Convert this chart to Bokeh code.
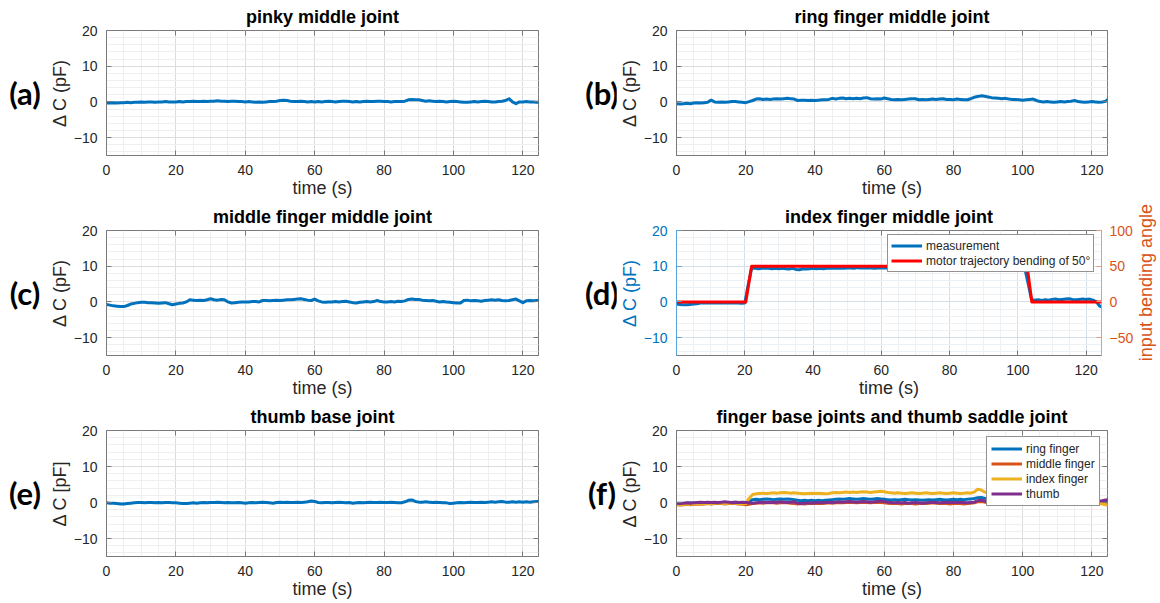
from bokeh.plotting import figure
from bokeh.layouts import column, row
from bokeh.models import Range1d, LinearAxis, SingleIntervalTicker, Div
from bokeh.embed import file_html
from bokeh.resources import INLINE

# ---------------- data ----------------
time_s = list(range(126))

pinky_mid = [-0.3,-0.3,-0.2,-0.3,-0.2,-0.2,-0.1,-0.2,-0.1,-0.1,0.0,
             -0.1,0.0,0.0,-0.1,0.0,0.0,0.1,0.0,0.0,0.0,
             0.1,0.0,0.1,0.1,0.2,0.1,0.1,0.2,0.1,0.2,
             0.2,0.3,0.2,0.2,0.1,0.2,0.2,0.1,0.1,0.0,
             0.1,0.0,-0.1,0.0,-0.1,0.0,0.1,0.1,0.2,0.4,
             0.5,0.4,0.2,0.1,0.1,0.2,0.1,0.0,0.1,0.0,
             0.1,0.0,0.1,0.2,0.1,0.0,0.1,0.2,0.2,0.1,
             0.0,0.1,0.0,0.1,0.2,0.1,0.1,0.2,0.2,0.1,
             0.1,0.0,0.1,0.1,0.1,0.2,0.6,0.7,0.6,0.6,
             0.4,0.2,0.3,0.2,0.1,0.2,0.1,0.0,0.1,0.2,
             0.1,0.0,-0.1,-0.1,0.0,0.1,0.0,0.1,0.2,0.1,
             0.0,0.0,0.1,0.2,0.4,0.9,0.0,-0.5,0.0,0.0,
             0.1,0.0,0.0,-0.1,-0.1]

ring_mid = [-0.5,-0.6,-0.5,-0.4,-0.5,-0.3,-0.2,-0.3,-0.2,-0.1,0.5,
            0.0,-0.1,0.0,-0.1,0.0,0.1,0.1,0.0,-0.1,-0.2,
            0.1,0.4,0.8,0.9,0.7,0.8,0.7,0.8,0.9,0.8,
            0.9,1.0,0.9,0.8,0.4,0.5,0.5,0.4,0.5,0.4,
            0.5,0.6,0.6,0.7,1.0,0.8,1.0,1.1,0.9,1.0,
            0.9,1.0,0.9,1.1,1.2,0.9,0.8,0.9,0.8,1.1,
            0.9,0.7,0.6,0.7,0.6,0.7,0.8,0.9,0.9,0.6,
            0.7,0.6,0.7,0.8,0.7,0.8,0.9,0.7,0.7,0.6,
            0.8,0.7,0.6,0.6,0.9,1.3,1.5,1.7,1.6,1.4,
            1.2,1.1,1.0,0.9,1.0,0.8,0.7,0.7,0.6,0.5,
            0.6,0.7,0.8,0.4,0.1,0.0,0.1,0.0,-0.1,0.0,
            0.1,0.0,0.1,0.2,0.4,0.1,0.0,-0.1,0.0,0.1,
            0.0,-0.1,0.0,0.2,1.0]

middle_mid = [-0.7,-0.9,-1.1,-1.2,-1.3,-1.3,-1.0,-0.6,-0.4,-0.2,-0.1,
              -0.1,-0.2,-0.2,-0.3,-0.4,-0.3,-0.2,-0.5,-0.8,-0.6,
              -0.4,-0.3,0.0,0.6,0.5,0.4,0.5,0.4,0.6,0.9,
              0.6,0.5,0.7,0.6,0.0,-0.3,-0.2,-0.1,0.0,0.0,
              0.0,0.1,0.1,0.0,0.4,0.4,0.3,0.4,0.5,0.4,
              0.5,0.6,0.6,0.7,0.8,0.9,0.7,0.5,0.4,0.8,
              0.3,0.0,-0.1,0.0,0.0,0.1,0.0,0.1,0.2,0.0,
              -0.2,-0.3,-0.1,0.0,0.1,0.0,0.1,0.4,0.1,0.0,
              0.0,0.1,0.0,0.2,0.1,0.3,0.7,0.8,0.7,0.7,
              0.5,0.4,0.3,0.4,0.2,0.0,0.1,0.0,-0.1,-0.2,
              -0.3,-0.3,0.4,0.5,0.3,0.4,0.3,0.2,0.4,0.5,
              0.6,0.5,0.6,0.4,0.3,0.4,0.6,0.8,0.3,-0.2,
              0.3,0.4,0.3,0.4,0.5]

index_meas = [-0.6,-0.7,-0.8,-0.8,-0.7,-0.6,-0.5,-0.3,-0.2,-0.3,-0.2,
              -0.3,-0.2,-0.3,-0.3,-0.2,-0.3,-0.2,-0.3,-0.4,-0.3,
              4.8,9.4,9.5,9.3,9.4,9.5,9.4,9.3,9.4,9.3,
              9.4,9.3,9.2,9.4,9.1,9.0,9.3,9.2,9.3,9.4,
              9.3,9.4,9.3,9.4,9.5,9.4,9.4,9.5,9.4,9.5,
              9.5,9.4,9.6,9.5,9.5,9.6,9.5,9.4,9.5,9.6,
              9.5,9.6,9.5,9.5,9.6,9.5,9.6,9.5,9.5,9.6,
              9.6,9.5,9.6,9.7,9.6,9.5,9.6,9.7,9.6,9.7,
              9.6,9.7,9.6,9.7,9.8,9.9,10.2,10.1,9.9,9.8,
              9.7,9.8,9.7,9.6,9.7,9.8,9.7,9.6,9.7,9.6,
              9.6,9.5,5.2,0.6,0.5,0.6,0.4,0.6,0.5,0.7,
              0.8,0.6,0.7,0.8,0.9,0.7,0.6,0.7,0.8,0.7,
              0.8,0.5,0.0,-1.2,-1.6]

motor_time = [0.0, 20.3, 22.0, 102.7, 104.1, 125.0]
motor_angle = [0, 0, 50, 50, 0, 0]

thumb_base = [-0.1,-0.2,-0.2,-0.3,-0.4,-0.4,-0.3,-0.2,-0.1,0.0,0.0,
              -0.1,0.0,0.0,-0.1,0.0,-0.1,0.0,0.0,-0.1,-0.1,
              -0.2,-0.3,-0.3,-0.2,-0.1,-0.2,-0.1,0.0,-0.1,0.0,
              0.0,0.1,0.0,-0.1,0.0,-0.1,-0.1,0.0,-0.1,-0.2,
              -0.1,0.0,-0.1,0.0,0.1,0.0,-0.1,-0.2,0.0,0.1,
              0.0,0.1,0.0,0.0,0.1,0.0,0.1,0.2,0.4,0.3,
              0.0,-0.1,0.0,0.0,-0.1,0.0,0.1,0.0,-0.1,0.0,
              -0.2,-0.1,0.0,-0.1,0.0,0.1,0.0,0.0,0.1,0.0,
              0.0,0.1,0.0,-0.1,-0.1,0.2,0.6,0.7,0.3,0.1,
              0.1,0.2,0.1,0.0,0.1,0.0,-0.1,-0.1,-0.3,-0.2,
              -0.1,0.0,-0.1,0.0,0.1,0.0,0.0,0.1,0.0,0.1,
              0.2,0.1,0.2,0.3,0.1,0.1,0.2,0.1,0.2,0.1,
              0.2,0.1,0.2,0.3,0.4]

base_ring = [-0.3,-0.2,-0.3,-0.2,-0.1,-0.2,-0.1,0.0,-0.1,0.0,0.0,
             0.0,-0.1,0.0,0.0,-0.1,0.0,0.1,0.0,-0.1,-0.2,
             0.2,0.8,0.9,0.8,0.9,1.0,0.9,0.8,0.9,1.0,
             0.9,1.0,0.9,0.8,0.6,0.5,0.6,0.5,0.6,0.5,
             0.6,0.5,0.6,0.7,0.8,0.9,1.0,0.9,1.0,1.1,
             1.0,0.9,1.0,1.1,1.0,0.9,1.0,1.1,1.0,0.9,
             0.8,0.7,0.8,0.7,0.8,0.9,0.8,0.7,0.8,0.7,
             0.6,0.7,0.8,0.7,0.8,0.9,0.8,0.7,0.8,0.9,
             0.8,0.9,0.8,0.9,1.0,1.1,1.3,1.4,1.2,1.1,
             1.0,0.9,1.0,0.9,0.8,0.9,0.8,0.7,0.8,0.7,
             0.6,0.5,0.4,0.3,0.2,0.3,0.2,0.1,0.2,0.1,
             0.2,0.1,0.2,0.1,0.2,0.3,0.2,0.1,0.2,0.3,
             0.2,0.3,0.2,0.3,0.4]

base_middle = [-0.6,-0.7,-0.6,-0.5,-0.6,-0.5,-0.4,-0.5,-0.4,-0.3,-0.4,
               -0.3,-0.2,-0.3,-0.4,-0.3,-0.2,-0.3,-0.4,-0.5,-0.6,
               -0.5,-0.3,-0.2,-0.1,-0.2,-0.1,0.0,-0.1,-0.2,-0.1,
               0.0,-0.1,-0.2,-0.3,-0.4,-0.3,-0.4,-0.3,-0.2,-0.3,
               -0.2,-0.3,-0.2,-0.1,-0.2,-0.1,0.0,-0.1,0.0,0.1,
               0.0,-0.1,0.0,0.1,0.0,-0.1,0.0,0.1,0.0,-0.1,
               -0.2,-0.3,-0.2,-0.3,-0.4,-0.3,-0.2,-0.3,-0.4,-0.3,
               -0.2,-0.3,-0.2,-0.1,-0.2,-0.3,-0.2,-0.3,-0.4,-0.3,
               -0.2,-0.3,-0.4,-0.3,-0.2,-0.1,0.2,0.3,0.1,0.0,
               -0.1,-0.2,-0.1,-0.2,-0.3,-0.2,-0.1,-0.2,-0.3,-0.2,
               -0.3,-0.2,-0.1,-0.2,-0.1,0.0,-0.1,0.0,0.1,0.0,
               -0.1,0.0,0.1,0.0,-0.1,0.0,0.1,0.2,0.1,0.0,
               0.1,0.0,-0.1,-0.2,-0.3]

base_index = [-0.5,-0.6,-0.5,-0.4,-0.5,-0.4,-0.3,-0.4,-0.3,-0.2,-0.3,
              -0.2,-0.1,-0.2,-0.3,-0.2,-0.1,-0.2,-0.3,-0.4,-0.3,
              1.2,2.2,2.4,2.5,2.6,2.5,2.6,2.7,2.6,2.7,
              2.8,2.7,2.6,2.7,2.6,2.5,2.4,2.5,2.6,2.5,
              2.6,2.5,2.4,2.5,2.7,2.8,2.7,2.8,2.9,2.8,
              2.9,2.8,2.9,3.0,2.9,2.8,2.9,3.0,3.1,3.0,
              2.8,2.7,2.6,2.7,2.6,2.5,2.6,2.7,2.6,2.5,
              2.6,2.7,2.6,2.5,2.6,2.7,2.6,2.5,2.6,2.7,
              2.6,2.5,2.6,2.7,2.6,2.9,3.7,3.5,2.9,2.7,
              2.6,2.7,2.6,2.5,2.6,2.5,2.4,2.5,2.4,2.3,
              2.2,2.0,1.5,0.8,0.3,0.2,0.1,0.2,0.1,0.0,
              0.1,0.0,0.1,0.0,-0.1,0.0,0.1,0.0,-0.1,0.0,
              -0.1,-0.2,-0.4,-0.6,-0.8]

base_thumb = [-0.2,-0.3,-0.2,-0.1,-0.2,-0.1,0.0,0.1,0.0,0.1,0.0,
              0.1,0.0,0.1,0.2,0.1,0.0,0.1,0.0,0.1,0.0,
              -0.1,-0.2,-0.1,0.0,0.1,0.0,0.1,0.0,0.1,0.2,
              0.1,0.0,0.1,0.2,-0.2,-0.3,-0.2,-0.1,-0.2,-0.1,
              0.0,-0.1,0.0,0.1,0.0,0.1,0.2,0.1,0.2,0.3,
              0.2,0.1,0.2,0.3,0.2,0.1,0.2,0.3,0.4,0.3,
              0.1,0.0,-0.1,0.0,-0.1,0.0,-0.2,-0.1,0.0,-0.1,
              -0.2,-0.1,0.0,0.1,0.0,-0.1,0.0,0.1,0.0,0.1,
              0.0,0.1,0.0,-0.1,0.0,0.1,0.5,0.6,0.4,0.3,
              0.2,0.3,0.2,0.1,0.2,0.1,0.0,0.1,0.2,0.1,
              0.0,0.1,0.2,0.1,0.0,0.1,0.2,0.1,0.0,0.1,
              0.2,0.1,0.2,0.3,0.2,0.1,0.2,0.3,0.4,0.3,
              0.3,0.4,0.5,0.7,0.8]

panel_titles = ["pinky middle joint", "ring finger middle joint",
                "middle finger middle joint", "index finger middle joint",
                "thumb base joint", "finger base joints and thumb saddle joint"]
panel_tags = ["(a)", "(b)", "(c)", "(d)", "(e)", "(f)"]
legend_d = ["measurement", "motor trajectory bending of 50°"]
legend_f = ["ring finger", "middle finger", "index finger", "thumb"]
right_label_d = "input bending angle"

for s in [pinky_mid, ring_mid, middle_mid, index_meas, thumb_base,
          base_ring, base_middle, base_index, base_thumb]:
    assert len(s) == len(time_s), len(s)

# ---------------- styling ----------------
BLUE = "#0072BD"
ORANGE = "#D95319"
YELLOW = "#EDB120"
PURPLE = "#7E2F8E"
RED = "#FF0000"
AX = "#262626"
EDGE = "#7a7a7a"
FONT = "Liberation Sans"
LW = 3

TOP_B = 30
FRAME_H = 126
ROW_H = 200
LAST_H = 203
LEFT_B = 60
TAG_W_L = 46    # left column tag strip
TAG_W_R = 36    # right column tag strip


def style_axis(ax, color=AX, line_color=EDGE):
    ax.axis_line_color = line_color
    ax.major_tick_line_color = line_color
    ax.major_tick_in = 5
    ax.major_tick_out = 0
    ax.minor_tick_line_color = None
    ax.major_label_text_font = FONT
    ax.major_label_text_font_size = "14px"
    ax.major_label_text_color = color
    ax.axis_label_text_font = FONT
    ax.axis_label_text_font_size = "18px"
    ax.axis_label_text_font_style = "normal"
    ax.axis_label_text_color = color


def deco_axis(ticker, color=EDGE, **kw):
    # tick marks only (MATLAB box ticks on the top / right edge)
    return LinearAxis(ticker=ticker, major_label_text_color=None,
                      major_label_text_font_size="1px", major_label_standoff=0,
                      axis_line_color=None, major_tick_in=5, major_tick_out=0,
                      major_tick_line_color=color, minor_tick_line_color=None, **kw)


def make_tag(idx, width, height, shift):
    html = ('<div style="position:relative;left:%dpx;margin-top:%dpx;width:%dpx;'
            'text-align:center;font-family:Lato;font-weight:bold;font-size:31px;'
            'line-height:34px;color:black;">%s</div>'
            % (shift, 76, width, panel_tags[idx]))
    return Div(text=html, width=width, height=height, margin=0)


def make_fig(idx, left_col, height, ylabel="Δ C (pF)", grid_color="#dcdcdc",
             minor_color="#efefef", right_border=None, right_ticks=True):
    if left_col:
        fw, br = 432, 580 - TAG_W_L - LEFT_B - 432
    else:
        fw, br = 431, 1160 - 580 - TAG_W_R - LEFT_B - 431
    if right_border is not None:
        br = right_border
    p = figure(width=LEFT_B + fw + br, height=height,
               x_range=Range1d(0, 124.5), y_range=Range1d(-15, 20),
               output_backend="svg", toolbar_location=None,
               min_border_left=LEFT_B, min_border_right=br,
               min_border_top=TOP_B, min_border_bottom=height - TOP_B - FRAME_H,
               x_axis_label="time (s)", y_axis_label=ylabel)
    p.background_fill_color = "white"
    p.border_fill_color = "white"
    p.outline_line_color = EDGE
    p.outline_line_width = 1

    p.xaxis.ticker = SingleIntervalTicker(interval=20, num_minor_ticks=4)
    p.yaxis.ticker = SingleIntervalTicker(interval=10, num_minor_ticks=5)
    for ax in p.xaxis + p.yaxis:
        style_axis(ax)
    p.xaxis.major_label_standoff = 5
    p.xaxis.axis_label_standoff = 0
    p.yaxis.major_label_standoff = 5
    p.yaxis.axis_label_standoff = 1

    for g in (p.xgrid[0], p.ygrid[0]):
        g.grid_line_color = grid_color
        g.grid_line_width = 1
        g.minor_grid_line_color = minor_color
        g.minor_grid_line_width = 1

    p.add_layout(deco_axis(SingleIntervalTicker(interval=20)), "above")
    if right_ticks:
        p.add_layout(deco_axis(SingleIntervalTicker(interval=10)), "right")

    p.title.text = panel_titles[idx]
    p.title.text_font = FONT
    p.title.text_font_size = "18px"
    p.title.text_font_style = "bold"
    p.title.text_color = "black"
    p.title.align = "center"
    p.title.standoff = 0
    return p


def style_legend(lg, loc):
    lg.location = loc
    lg.label_text_font = FONT
    lg.label_text_font_size = "12px"
    lg.label_text_color = AX
    lg.border_line_color = AX
    lg.border_line_width = 1
    lg.background_fill_color = "white"
    lg.background_fill_alpha = 1.0
    lg.padding = 3
    lg.spacing = 0
    lg.margin = 0
    lg.glyph_width = 31
    lg.glyph_height = 15
    lg.label_height = 15
    lg.label_standoff = 4


pa = make_fig(0, True, ROW_H)
pa.line(time_s, pinky_mid, line_color=BLUE, line_width=LW, line_join="round")

pb = make_fig(1, False, ROW_H)
pb.line(time_s, ring_mid, line_color=BLUE, line_width=LW, line_join="round")

pc = make_fig(2, True, ROW_H)
pc.line(time_s, middle_mid, line_color=BLUE, line_width=LW, line_join="round")

D_RIGHT = 29
pd = make_fig(3, False, ROW_H, grid_color="#d5dfe9", minor_color="#ecf1f6",
              right_border=D_RIGHT, right_ticks=False)
pd.extra_y_ranges = {"angle": Range1d(-75, 100)}
ra = LinearAxis(y_range_name="angle", ticker=SingleIntervalTicker(interval=50))
style_axis(ra, color=ORANGE, line_color="#ee9a72")
ra.major_label_standoff = 4
pd.add_layout(ra, "right")
style_axis(pd.yaxis[0], color=BLUE, line_color="#5aa3da")
pd.yaxis[0].major_label_standoff = 5
pd.yaxis[0].axis_label_standoff = 1
pd.line(time_s, index_meas, line_color=BLUE, line_width=LW, line_join="round",
        legend_label=legend_d[0])
pd.line(motor_time, motor_angle, y_range_name="angle", line_color=RED, line_width=LW,
        line_join="round", legend_label=legend_d[1])
style_legend(pd.legend[0], (211, 83))

# right-hand axis title of (d), reading bottom-to-top like the reference
rl_w = 1160 - 580 - TAG_W_R - LEFT_B - 431 - D_RIGHT
right_title = Div(
    text=('<div style="width:%dpx;height:%dpx;margin-top:%dpx;display:flex;'
          'align-items:center;justify-content:flex-end;">'
          '<span style="writing-mode:vertical-rl;transform:rotate(180deg);'
          'font-family:Liberation Sans;font-size:18px;color:%s;white-space:nowrap;">'
          '%s</span></div>') % (rl_w, 160, 3, ORANGE, right_label_d),
    width=rl_w, height=ROW_H, margin=0)

pe = make_fig(4, True, LAST_H, ylabel="Δ C [pF]")
pe.line(time_s, thumb_base, line_color=BLUE, line_width=LW, line_join="round")

pf = make_fig(5, False, LAST_H)
pf.line(time_s, base_ring, line_color=BLUE, line_width=LW, line_join="round",
        legend_label=legend_f[0])
pf.line(time_s, base_middle, line_color=ORANGE, line_width=LW, line_join="round",
        legend_label=legend_f[1])
pf.line(time_s, base_index, line_color=YELLOW, line_width=LW, line_join="round",
        legend_label=legend_f[2])
pf.line(time_s, base_thumb, line_color=PURPLE, line_width=LW, line_join="round",
        legend_label=legend_f[3])
style_legend(pf.legend[0], (310, 50))
pf.legend[0].padding = 4

layout = column(
    row(make_tag(0, TAG_W_L, ROW_H, 2), pa, make_tag(1, TAG_W_R, ROW_H, 4), pb, spacing=0),
    row(make_tag(2, TAG_W_L, ROW_H, 2), pc, make_tag(3, TAG_W_R, ROW_H, 4), pd, right_title,
        spacing=0),
    row(make_tag(4, TAG_W_L, LAST_H, 2), pe, make_tag(5, TAG_W_R, LAST_H, 4), pf, spacing=0),
    spacing=0)

open("out.html", "w").write(file_html(layout, INLINE))
